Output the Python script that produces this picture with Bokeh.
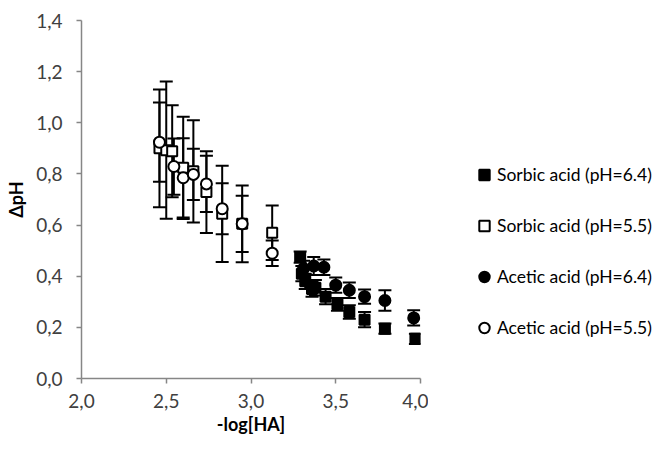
from bokeh.plotting import figure
from bokeh.layouts import row
from bokeh.models import (ColumnDataSource, Whisker, TeeHead, Legend, LegendItem,
                          Range1d, FixedTicker, CustomJSTickFormatter)
from bokeh.embed import file_html
from bokeh.resources import INLINE

# ---- data ----
sorbic64_x = [3.29, 3.30, 3.32, 3.36, 3.38, 3.44, 3.51, 3.58, 3.67, 3.79, 3.97]
sorbic64_y = [0.475, 0.41, 0.38, 0.35, 0.355, 0.32, 0.29, 0.26, 0.23, 0.195, 0.155]
sorbic64_e = [0.022, 0.03, 0.03, 0.03, 0.03, 0.03, 0.025, 0.026, 0.03, 0.02, 0.02]

sorbic55_x = [2.46, 2.50, 2.535, 2.60, 2.66, 2.737, 2.83, 2.948, 3.125]
sorbic55_y = [0.90, 0.893, 0.889, 0.824, 0.81, 0.729, 0.644, 0.605, 0.57]
sorbic55_e = [0.23, 0.268, 0.18, 0.20, 0.20, 0.16, 0.188, 0.15, 0.107]

acetic64_x = [3.31, 3.37, 3.43, 3.50, 3.58, 3.67, 3.79, 3.96]
acetic64_y = [0.43, 0.44, 0.435, 0.365, 0.345, 0.32, 0.305, 0.237]
acetic64_e = [0.03, 0.035, 0.03, 0.03, 0.03, 0.028, 0.04, 0.03]

acetic55_x = [2.46, 2.545, 2.60, 2.66, 2.737, 2.83, 2.948, 3.125]
acetic55_y = [0.924, 0.829, 0.785, 0.798, 0.761, 0.664, 0.605, 0.49]
acetic55_e = [0.155, 0.11, 0.155, 0.10, 0.11, 0.10, 0.11, 0.05]

labels = ["Sorbic acid (pH=6.4)", "Sorbic acid (pH=5.5)",
          "Acetic acid (pH=6.4)", "Acetic acid (pH=5.5)"]
y_ticks = [0.0, 0.2, 0.4, 0.6, 0.8, 1.0, 1.2, 1.4]
x_ticks = [2.0, 2.5, 3.0, 3.5, 4.0]

FONT = "Lato"
AXIS_GREY = "#868686"
TEXT_GREY = "#404040"

p = figure(width=428, height=442, output_backend="svg", toolbar_location=None,
           x_range=Range1d(2.0, 4.0), y_range=Range1d(0.0, 1.4),
           min_border_left=81, min_border_right=8, min_border_top=20,
           min_border_bottom=64)
p.grid.visible = False
p.outline_line_color = None

def src(x, y, e):
    return ColumnDataSource(dict(x=x, y=y,
                                 upper=[a + b for a, b in zip(y, e)],
                                 lower=[a - b for a, b in zip(y, e)]))

styles = [("square", "black", 10), ("square", "white", 10),
          ("circle", "black", 11), ("circle", "white", 11)]
sources = [src(sorbic64_x, sorbic64_y, sorbic64_e),
           src(sorbic55_x, sorbic55_y, sorbic55_e),
           src(acetic64_x, acetic64_y, acetic64_e),
           src(acetic55_x, acetic55_y, acetic55_e)]

for s, (marker, fill, size) in zip(sources, styles):
    p.scatter("x", "y", source=s, marker=marker, size=size,
              fill_color=fill, line_color="black", line_width=2)
for s in sources:
    w = Whisker(source=s, base="x", upper="upper", lower="lower",
                dimension="height", line_color="black", line_width=2,
                upper_head=TeeHead(size=13, line_width=2, line_color="black"),
                lower_head=TeeHead(size=13, line_width=2, line_color="black"))
    p.add_layout(w)

for ax in (p.xaxis[0], p.yaxis[0]):
    ax.axis_line_color = AXIS_GREY
    ax.axis_line_width = 1.5
    ax.major_tick_line_color = AXIS_GREY
    ax.major_tick_line_width = 1.5
    ax.major_tick_out = 5
    ax.major_tick_in = 0
    ax.minor_tick_line_color = None
    ax.major_label_text_font = FONT
    ax.major_label_text_font_size = "19px"
    ax.major_label_text_color = TEXT_GREY
    ax.axis_label_text_font = FONT
    ax.axis_label_text_font_size = "18px"
    ax.axis_label_text_font_style = "bold"
    ax.axis_label_text_color = "black"
    ax.formatter = CustomJSTickFormatter(code="return tick.toFixed(1).replace('.', ',');")

p.xaxis[0].ticker = FixedTicker(ticks=x_ticks)
p.yaxis[0].ticker = FixedTicker(ticks=y_ticks)
p.xaxis[0].axis_label = "-log[HA]"
p.yaxis[0].axis_label = "ΔpH"
p.xaxis[0].major_label_standoff = 10
p.yaxis[0].major_label_standoff = 14
p.xaxis[0].axis_label_standoff = 2
p.yaxis[0].axis_label_standoff = 6

# legend panel: axis-free figure; the series are drawn there outside its view
lg = figure(width=227, height=442, output_backend="svg", toolbar_location=None,
            min_border=0, x_range=Range1d(0, 1), y_range=Range1d(0, 1),
            x_axis_location=None, y_axis_location=None)
lg.grid.visible = False
lg.outline_line_color = None
legend_renderers = []
for s, (marker, fill, size) in zip(sources, styles):
    r = lg.scatter("x", "y", source=s, marker=marker, size=size, fill_color=fill,
                   line_color="black", line_width=2)
    legend_renderers.append(r)
items = [LegendItem(label=l, renderers=[r]) for l, r in zip(labels, legend_renderers)]
legend = Legend(items=items, location=(43, 37), orientation="vertical",
                glyph_width=26, glyph_height=27, label_standoff=0, spacing=24,
                padding=0, margin=0, border_line_color=None,
                background_fill_alpha=0, label_text_font=FONT,
                label_text_font_size="17.5px", label_text_color="black")
lg.add_layout(legend, "center")

layout = row(p, lg)
open("out.html", "w").write(file_html(layout, INLINE))
